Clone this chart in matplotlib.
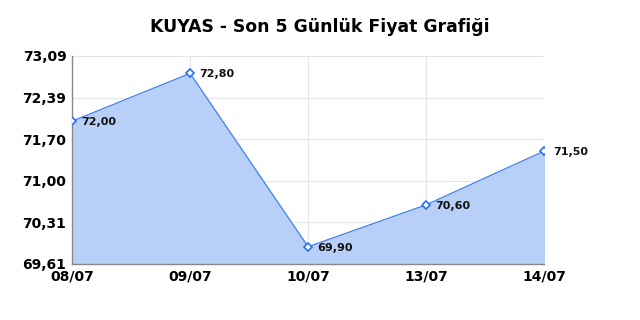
import numpy as np
import matplotlib.pyplot as plt

dates = ["08/07", "09/07", "10/07", "13/07", "14/07"]
prices = [72.00, 72.80, 69.90, 70.60, 71.50]
ytick_vals = [69.61, 70.31, 71.00, 71.70, 72.39, 73.09]

fig = plt.figure(figsize=(6.4, 3.2), dpi=100)
ax = fig.add_axes([0.1125, 0.175, 0.7375, 0.65])

x = np.arange(len(dates))
ax.fill_between(x, prices, ytick_vals[0], color="#b8d0f8", zorder=1)
ax.plot(x, prices, color="#3b7df0", lw=0.8, zorder=3)
ax.plot(x, prices, "D", ms=4, mfc="white", mec="#2a6ff0", mew=1.2, zorder=4)

for xi, p in zip(x, prices):
    ax.annotate(f"{p:.2f}".replace(".", ","), (xi, p), xytext=(7, -3),
                textcoords="offset points", fontsize=8, fontweight="bold",
                color="#111111")

ax.set_xlim(0, len(dates) - 1)
ax.set_ylim(ytick_vals[0], ytick_vals[-1])
ax.set_xticks(x)
ax.set_xticklabels(dates, fontsize=10, fontweight="bold")
ax.set_yticks(ytick_vals)
ax.set_yticklabels([f"{v:.2f}".replace(".", ",") for v in ytick_vals],
                   fontsize=10, fontweight="bold")
ax.tick_params(length=0, pad=4)
ax.grid(True, color="#e6e6e6", lw=0.8, zorder=0)
ax.set_axisbelow(True)
for s in ["top", "right"]:
    ax.spines[s].set_visible(False)
for s in ["left", "bottom"]:
    ax.spines[s].set_color("#888888")
    ax.spines[s].set_linewidth(1)

fig.text(0.5, 0.915, "KUYAS - Son 5 Günlük Fiyat Grafiği", ha="center",
         va="center", fontsize=12.4, fontweight="bold")

fig.savefig("out.png", dpi=100)
